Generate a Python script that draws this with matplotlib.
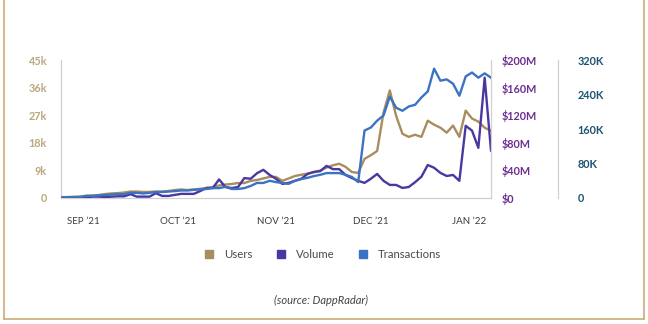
import matplotlib
matplotlib.use("Agg")
import matplotlib.pyplot as plt
import pandas as pd
from matplotlib.lines import Line2D

# every second day, 25 Aug 2021 - 8 Jan 2022
dates = pd.date_range("2021-08-25", "2022-01-08", freq="2D")

# daily users, thousands
users = [0.3, 0.3, 0.4, 0.5, 0.7, 0.8, 1.0, 1.3, 1.5, 1.6,
         1.8, 2.1, 2.1, 2.0, 2.0, 2.1, 2.1, 2.3, 2.6, 2.8,
         2.6, 2.8, 3.0, 3.3, 3.6, 4.1, 4.4, 4.6, 4.9, 4.9,
         5.6, 5.9, 6.4, 6.9, 6.9, 5.6, 6.4, 7.2, 7.6, 8.0,
         8.4, 9.0, 10.0, 10.7, 11.2, 10.2, 8.5, 8.2, 12.8, 14.0,
         15.4, 27.9, 35.2, 26.9, 21.0, 20.0, 20.7, 20.0, 25.3, 24.0,
         23.0, 21.4, 23.7, 20.0, 28.6, 26.0, 25.0, 23.0, 22.0]

# volume, $ millions
volume = [0.3, 0.3, 0.5, 0.8, 1.0, 2.0, 2.0, 1.5, 2.0, 2.5,
          2.5, 5.5, 2.0, 2.0, 2.0, 7.0, 3.0, 3.0, 4.5, 6.0,
          6.0, 6.0, 10.0, 14.5, 14.5, 27.0, 16.0, 14.5, 16.0, 29.0,
          28.0, 36.0, 41.0, 33.5, 28.0, 20.5, 22.0, 25.0, 28.0, 35.0,
          38.0, 39.0, 46.7, 42.0, 42.0, 33.5, 29.0, 25.0, 22.0, 28.0,
          35.0, 25.0, 19.0, 19.0, 14.6, 16.0, 23.0, 31.0, 48.0, 44.0,
          36.5, 32.0, 33.5, 25.0, 105.0, 98.0, 73.0, 175.0, 69.0]

# transactions, thousands
transactions = [1, 1, 2, 2, 5, 5, 6, 7, 8, 9,
                9, 12, 12, 10.5, 12, 14, 14, 15, 16, 17.5,
                17.5, 19, 20, 21, 23, 23, 26, 21, 21, 23,
                28, 35, 35, 40, 37, 35, 33, 40, 44, 47,
                51, 54, 58, 58, 58, 54, 49, 37, 157, 164,
                180, 192, 236, 210, 203, 213, 217, 234, 248, 301,
                273, 276, 266, 238, 283, 292, 280, 290, 280]

month_ticks = pd.to_datetime(["2021-09-01", "2021-10-01", "2021-11-01",
                              "2021-12-01", "2022-01-01"])
month_labels = ["SEP \u201921", "OCT \u201921", "NOV \u201921",
                "DEC \u201921", "JAN \u201922"]
users_ticks = [0, 9, 18, 27, 36, 45]
users_labels = ["0", "9k", "18k", "27k", "36k", "45k"]
volume_ticks = [0, 40, 80, 120, 160, 200]
volume_labels = ["$0", "$40M", "$80M", "$120M", "$160M", "$200M"]
tx_ticks = [0, 80, 160, 240, 320]
tx_labels = ["0", "80K", "160K", "240K", "320K"]

c_users = "#A88D5E"
c_volume = "#4B37A0"
c_tx = "#3B73C2"
grey = "#D0D0D0"

plt.rcParams["font.family"] = ["Lato", "DejaVu Sans"]

fig = plt.figure(figsize=(6.48, 3.24), dpi=100)
ax = fig.add_axes([0.0941, 0.3889, 0.6636, 0.4244])
ax2 = ax.twinx()
ax3 = ax.twinx()
ax3.spines["right"].set_position(("axes", 1.155))

ax.plot(dates, users, color=c_users, lw=1.7)
ax2.plot(dates, volume, color=c_volume, lw=1.7)
ax3.plot(dates, transactions, color=c_tx, lw=1.7)

ax.set_xlim(dates[0], dates[-1])
ax.set_ylim(0, 45)
ax2.set_ylim(0, 200)
ax3.set_ylim(0, 320)

ax.set_xticks(month_ticks)
ax.set_xticklabels(month_labels, fontsize=7, color="#3C3C3C")
ax.tick_params(axis="x", length=0, pad=14)

ax.set_yticks(users_ticks)
ax.set_yticklabels(users_labels, fontsize=7.8, fontweight="bold", color="#BBA77F")
ax.tick_params(axis="y", length=0, pad=10)

ax2.set_yticks(volume_ticks)
ax2.set_yticklabels(volume_labels, fontsize=7.8, fontweight="bold", color="#6C2E92")
ax2.tick_params(axis="y", length=0, pad=8)

ax3.set_yticks(tx_ticks)
ax3.set_yticklabels(tx_labels, fontsize=7.8, fontweight="bold", color="#1D5272")
ax3.tick_params(axis="y", length=0, pad=14.5)

for a in (ax, ax2, ax3):
    for side in a.spines:
        a.spines[side].set_visible(False)
ax.spines["left"].set_visible(True)
ax.spines["bottom"].set_visible(True)
ax2.spines["right"].set_visible(True)
ax3.spines["right"].set_visible(True)
for sp in (ax.spines["left"], ax.spines["bottom"], ax2.spines["right"], ax3.spines["right"]):
    sp.set_color(grey)
    sp.set_linewidth(0.9)

handles = [Line2D([], [], ls="none", marker="s", ms=6, color=c)
           for c in (c_users, c_volume, c_tx)]
fig.legend(handles, ["Users", "Volume", "Transactions"], loc="center",
           bbox_to_anchor=(0.493, 0.216), ncol=3, frameon=False,
           fontsize=8.2, labelcolor="#4A4A4A", handletextpad=0.3,
           columnspacing=1.5)

fig.text(0.495, 0.074, "(source: DappRadar)", ha="center", va="center",
         fontsize=8, style="italic", color="#444444")

# gold frame round the panel
gold = "#C9AD78"
fig.add_artist(Line2D([0.0065, 0.0065], [0.014, 1.0], color=gold, lw=1.2))
fig.add_artist(Line2D([0.9945, 0.9945], [0.014, 1.0], color=gold, lw=1.2))
fig.add_artist(Line2D([0.0065, 0.9945], [0.014, 0.014], color=gold, lw=1.2))

fig.savefig("out.png", dpi=100)
